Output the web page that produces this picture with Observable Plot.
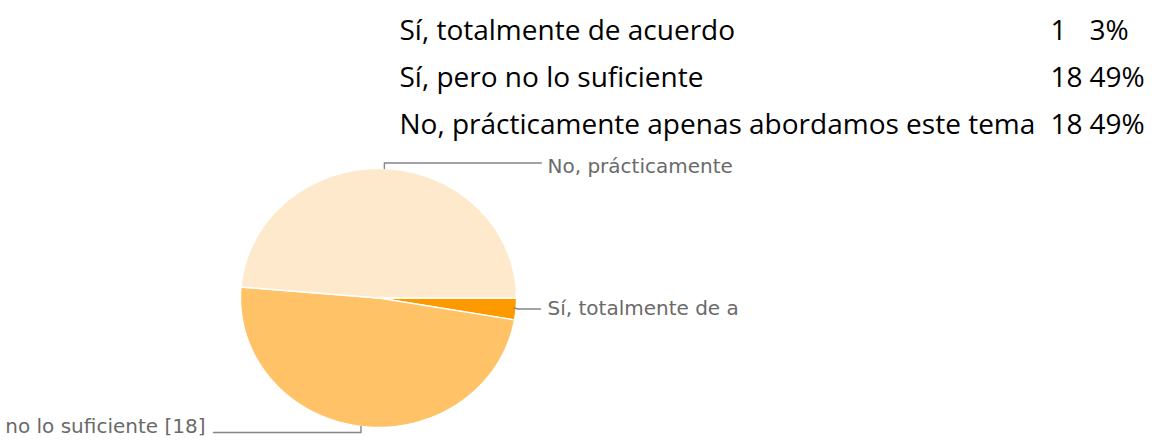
<!DOCTYPE html>
<html>
<head>
<meta charset="utf-8">
<script src="https://cdn.jsdelivr.net/npm/d3@7"></script>
<script src="https://cdn.jsdelivr.net/npm/@observablehq/plot@0.6"></script>
<style>
  html, body { margin: 0; padding: 0; background: #fff; }
  #chart svg { display: block; }
</style>
</head>
<body>
<div id="chart"></div>
<script>
// ---- data ----
const categories = ["Sí, totalmente de acuerdo", "Sí, pero no lo suficiente", "No, prácticamente apenas abordamos este tema"];
const counts = [1, 18, 18];
const percentLabels = ["3%", "49%", "49%"];
const pieLabels = ["Sí, totalmente de a", "no lo suficiente [18]", "No, prácticamente"];
const sliceColors = ["#ff9900", "#ffc266", "#fee9cc"];

// ---- layout ----
const W = 1156, H = 445;
const cx = 378, cy = 297.5, rx = 138, ry = 129.5;
const total = d3.sum(counts);

// slice geometry from values (angles clockwise from 3 o'clock)
let acc = 0;
const slices = counts.map((v, i) => {
  const a0 = acc / total * 2 * Math.PI;
  acc += v;
  const a1 = acc / total * 2 * Math.PI;
  const pts = [{x: cx, y: cy}];
  const n = Math.max(4, Math.ceil((a1 - a0) / (Math.PI / 180)));
  for (let k = 0; k <= n; k++) {
    const a = a0 + (a1 - a0) * k / n;
    pts.push({x: cx + rx * Math.cos(a), y: cy + ry * Math.sin(a)});
  }
  pts.push({x: cx, y: cy});
  const am = (a0 + a1) / 2;
  return {i, pts, anchor: {x: cx + rx * Math.cos(am), y: cy + ry * Math.sin(am)}};
});

// leader lines + label placement
const leaders = [];
const labels = [];
// slice 0: to the right
{
  const p = slices[0].anchor;
  leaders.push([{x: p.x - 2, y: p.y - 1}, {x: p.x + 2, y: p.y}, {x: 540, y: p.y}]);
  labels.push({x: 547, y: p.y, text: pieLabels[0], anchor: "start"});
}
// slice 1: down then left
{
  const p = slices[1].anchor;
  leaders.push([{x: p.x, y: p.y}, {x: p.x, y: 432}, {x: 213, y: 432}]);
  labels.push({x: 205, y: 426, text: pieLabels[1], anchor: "end"});
}
// slice 2: up then right
{
  const p = slices[2].anchor;
  leaders.push([{x: p.x, y: p.y}, {x: p.x, y: 162.5}, {x: 541, y: 162.5}]);
  labels.push({x: 547, y: 166, text: pieLabels[2], anchor: "start"});
}

// table rows
const rowBaselines = [39, 86, 133];
const tableRows = categories.map((c, i) => ({
  label: c, count: String(counts[i]), pct: percentLabels[i], y: rowBaselines[i]
}));

const marks = [];
slices.forEach(s => {
  marks.push(Plot.line(s.pts, {x: "x", y: "y", fill: sliceColors[s.i], stroke: "#fff", strokeWidth: 1.4, strokeLinejoin: "round"}));
});
leaders.forEach(l => {
  marks.push(Plot.line(l, {x: "x", y: "y", stroke: "#858585", strokeWidth: 1.4}));
});
labels.forEach(l => {
  marks.push(Plot.text([l], {x: "x", y: "y", text: "text", textAnchor: l.anchor, lineAnchor: "middle",
    fontFamily: "DejaVu Sans", fontSize: 20, fill: "#6a6a6a"}));
});
const tableFont = {fontFamily: "Open Sans", fontSize: 28, fill: "#000", lineAnchor: "bottom", textAnchor: "start"};
marks.push(Plot.text(tableRows, {x: () => 399, y: "y", text: "label", ...tableFont}));
marks.push(Plot.text(tableRows, {x: () => 1050, y: "y", text: "count", ...tableFont}));
marks.push(Plot.text(tableRows, {x: () => 1089, y: "y", text: "pct", ...tableFont}));

const chart = Plot.plot({
  width: W,
  height: H,
  margin: 0,
  x: {type: "linear", domain: [0, W], range: [0, W], axis: null},
  y: {type: "linear", domain: [0, H], range: [0, H], axis: null},
  style: {background: "#fff"},
  marks
});
document.getElementById("chart").append(chart);
</script>
</body>
</html>
